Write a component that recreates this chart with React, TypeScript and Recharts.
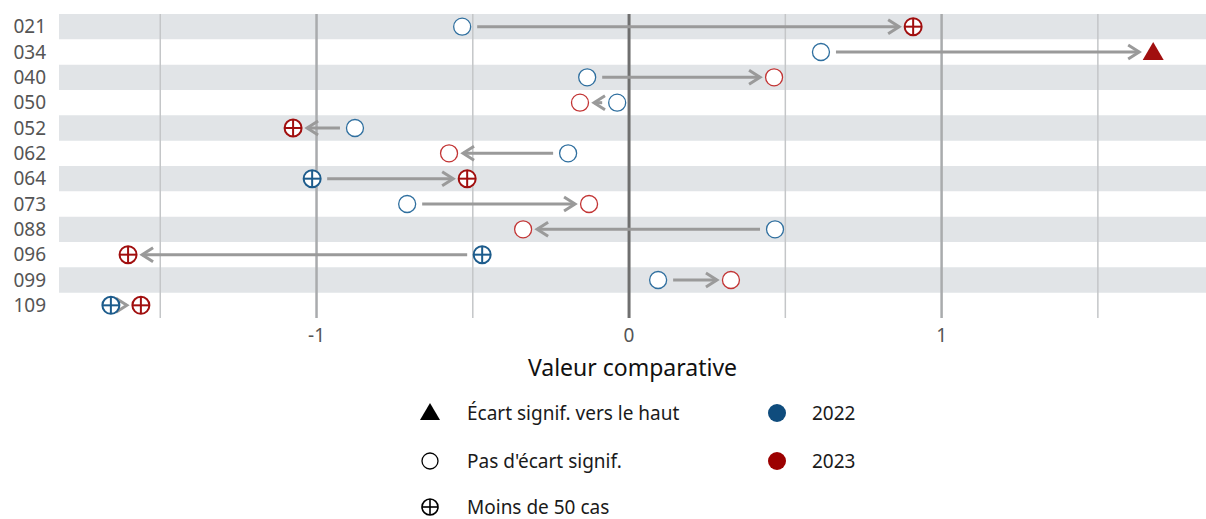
import React from "react";
import { Legend, ReferenceArea, ReferenceLine, Scatter, ScatterChart, XAxis, YAxis } from "recharts";

const codes = ["021", "034", "040", "050", "052", "062", "064", "073", "088", "096", "099", "109"];
const values2022 = [-0.534, 0.614, -0.134, -0.038, -0.877, -0.195, -1.014, -0.71, 0.467, -0.47, 0.093, -1.658];
const values2023 = [0.909, 1.677, 0.464, -0.157, -1.075, -0.576, -0.518, -0.128, -0.339, -1.603, 0.326, -1.562];
// n = pas d'écart, s = moins de 50 cas, up = écart signif. vers le haut
const status2022 = ["n", "n", "n", "n", "n", "n", "s", "n", "n", "s", "n", "s"];
const status2023 = ["s", "up", "n", "n", "s", "n", "s", "n", "n", "s", "n", "s"];
const gridTicks = [-1.5, -1, -0.5, 0, 0.5, 1, 1.5];
const xTicks = [-1, 0, 1];

const BLUE = "#1d5c8c";
const BLUE_LIGHT = "#2f6f9f";
const RED = "#a10f0f";
const RED_LIGHT = "#c23434";
const ARROW = "#9a9a9a";
const FONT = "'Noto Sans', 'Open Sans', sans-serif";

const points2022 = codes.map((c, i) => ({ x: values2022[i], y: i, kind: status2022[i], code: c }));
const points2023 = codes.map((c, i) => ({ x: values2023[i], y: i, kind: status2023[i], code: c }));

function marker(color: string, light: string) {
  return (props: any) => {
    const { cx, cy, payload } = props;
    const r = 8.5;
    if (payload.kind === "up") {
      return <polygon points={`${cx},${cy - 10} ${cx + 10.5},${cy + 8} ${cx - 10.5},${cy + 8}`} fill={color} />;
    }
    if (payload.kind === "s") {
      return (
        <g>
          <circle cx={cx} cy={cy} r={r} fill="#fff" stroke={color} strokeWidth={2} />
          <line x1={cx - r} x2={cx + r} y1={cy} y2={cy} stroke={color} strokeWidth={2} />
          <line x1={cx} x2={cx} y1={cy - r} y2={cy + r} stroke={color} strokeWidth={2} />
        </g>
      );
    }
    return <circle cx={cx} cy={cy} r={r} fill="#fff" stroke={light} strokeWidth={1.3} />;
  };
}

function Arrow(props: any) {
  const { x1, y1, x2 } = props;
  if (x1 == null || x2 == null) return null;
  const d = x2 > x1 ? 1 : -1;
  const sx = x1 + d * 15;
  const ex = x2 - d * 14;
  return (
    <g>
      <line x1={sx} x2={ex} y1={y1} y2={y1} stroke={ARROW} strokeWidth={3} />
      <polyline
        points={`${ex - d * 11},${y1 - 7} ${ex},${y1} ${ex - d * 11},${y1 + 7}`}
        fill="none"
        stroke={ARROW}
        strokeWidth={3}
      />
    </g>
  );
}

function LegendBox() {
  const text = { position: "absolute" as const, fontSize: 19, color: "#1a1a1a", fontFamily: FONT, lineHeight: "24px" };
  return (
    <div style={{ position: "relative", width: 1206, height: 120 }}>
      <svg width={1206} height={120} style={{ position: "absolute", left: 0, top: 0 }}>
        <polygon points="430,3 440,20 420,20" fill="#000" />
        <circle cx={430} cy={61} r={8} fill="#fff" stroke="#000" strokeWidth={1.3} />
        <circle cx={430} cy={107} r={8} fill="#fff" stroke="#000" strokeWidth={1.6} />
        <line x1={422} x2={438} y1={107} y2={107} stroke="#000" strokeWidth={1.6} />
        <line x1={430} x2={430} y1={99} y2={115} stroke="#000" strokeWidth={1.6} />
        <circle cx={777} cy={13} r={9} fill="#0f4c7d" />
        <circle cx={777} cy={61} r={9} fill="#9c0000" />
      </svg>
      <span style={{ ...text, left: 467, top: 1 }}>Écart signif. vers le haut</span>
      <span style={{ ...text, left: 467, top: 49 }}>Pas d'écart signif.</span>
      <span style={{ ...text, left: 467, top: 95 }}>Moins de 50 cas</span>
      <span style={{ ...text, left: 812, top: 1 }}>2022</span>
      <span style={{ ...text, left: 812, top: 49 }}>2023</span>
    </div>
  );
}

export default function App() {
  return (
    <div style={{ position: "absolute", left: 0, top: 0, width: 1206, height: 519, background: "#fff" }}>
      <ScatterChart width={1206} height={519} margin={{ top: 14, right: 0, left: 0, bottom: 21 }}>
        {codes.map((c, i) =>
          i % 2 === 0 ? (
            <ReferenceArea key={c} y1={i - 0.5} y2={i + 0.5} fill="#e1e4e7" fillOpacity={1} stroke="none" ifOverflow="extendDomain" />
          ) : null
        )}
        {gridTicks.map((t) => (
          <ReferenceLine
            key={t}
            x={t}
            stroke={t === 0 ? "#6f6f6f" : Math.abs(t) === 1 ? "#a9abad" : "#c4c6c8"}
            strokeWidth={t === 0 ? 3 : Math.abs(t) === 1 ? 2.5 : 1.5}
          />
        ))}
        {codes.map((c, i) => (
          <ReferenceLine
            key={"a" + c}
            segment={[
              { x: values2022[i], y: i },
              { x: values2023[i], y: i },
            ]}
            shape={Arrow}
          />
        ))}
        <XAxis
          type="number"
          dataKey="x"
          domain={[-1.824, 1.846]}
          ticks={xTicks}
          allowDataOverflow
          axisLine={false}
          tickLine={false}
          tickSize={0}
          tickMargin={11}
          height={60}
          tick={{ fill: "#555", fontSize: 19, fontFamily: FONT }}
          label={{ value: "Valeur comparative", position: "insideBottom", offset: 2, fill: "#111", fontSize: 23, fontFamily: FONT }}
        />
        <YAxis
          type="number"
          dataKey="y"
          domain={[-0.5, 11.5]}
          ticks={codes.map((_, i) => i)}
          tickFormatter={(v: number) => codes[v]}
          reversed
          allowDataOverflow
          interval={0}
          width={59}
          axisLine={false}
          tickLine={false}
          tickSize={0}
          tickMargin={13}
          tick={{ fill: "#555", fontSize: 19, fontFamily: FONT }}
        />
        <Scatter name="2022" data={points2022} shape={marker(BLUE, BLUE_LIGHT)} isAnimationActive={false} />
        <Scatter name="2023" data={points2023} shape={marker(RED, RED_LIGHT)} isAnimationActive={false} />
        <Legend
          verticalAlign="bottom"
          wrapperStyle={{ position: "absolute", left: 0, top: 400, width: 1206, height: 120 }}
          content={() => <LegendBox />}
        />
      </ScatterChart>
    </div>
  );
}
